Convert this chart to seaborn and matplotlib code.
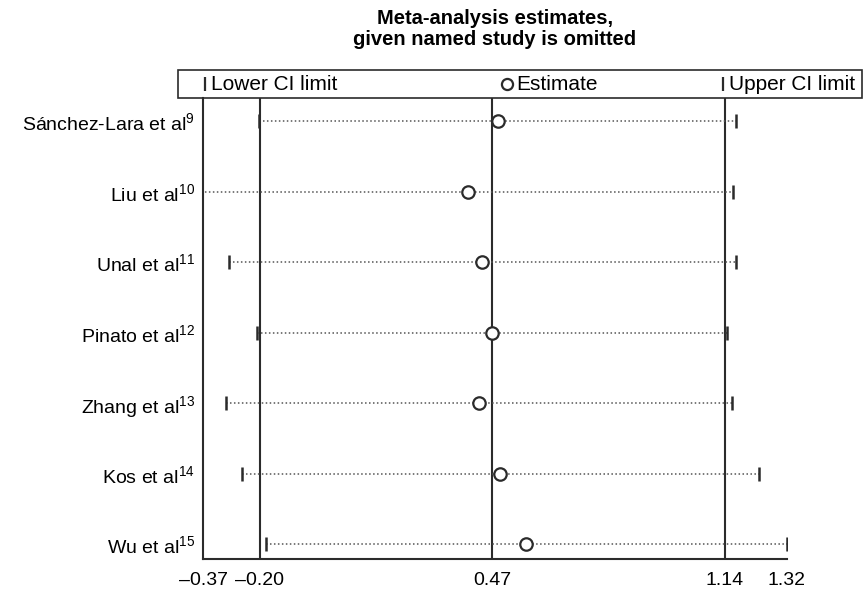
import matplotlib
matplotlib.use("Agg")
import matplotlib.pyplot as plt
from matplotlib.lines import Line2D
from matplotlib.patches import Rectangle
import seaborn as sns

# ---- data ----
studies = ["Sánchez-Lara et al$^{9}$", "Liu et al$^{10}$", "Unal et al$^{11}$",
           "Pinato et al$^{12}$", "Zhang et al$^{13}$", "Kos et al$^{14}$",
           "Wu et al$^{15}$"]
estimate = [0.483, 0.398, 0.438, 0.467, 0.428, 0.489, 0.566]
lower = [-0.208, -0.40, -0.296, -0.214, -0.304, -0.259, -0.187]
upper = [1.173, 1.165, 1.172, 1.148, 1.162, 1.240, 1.320]
overall = [-0.2066, 0.4672, 1.1413]
xticks = [-0.37, -0.2066, 0.4672, 1.1413, 1.32]
xtick_labels = ["\u20130.37", "\u20130.20", "0.47", "1.14", "1.32"]

sns.set_style("white")
plt.rcParams["font.family"] = ["Liberation Sans", "DejaVu Sans"]
plt.rcParams["mathtext.default"] = "regular"
plt.rcParams["text.color"] = "black"
plt.rcParams["xtick.color"] = "black"
plt.rcParams["ytick.color"] = "black"

dark = "#2b2b2b"

fig = plt.figure(figsize=(8.64, 5.93), dpi=100)
ax = fig.add_axes([0.2353, 0.0573, 0.6752, 0.7774])

for x in overall:
    ax.axvline(x, color=dark, lw=1.5, zorder=1)

ax.hlines(y=studies, xmin=lower, xmax=upper, colors="#555555",
          linestyles=(0, (1, 1.6)), lw=1.1, zorder=2)

sns.scatterplot(x=lower, y=studies, marker="|", s=110, color=dark,
                linewidth=1.8, ax=ax, zorder=3)
sns.scatterplot(x=upper, y=studies, marker="|", s=110, color=dark,
                linewidth=1.8, ax=ax, zorder=3)
sns.scatterplot(x=estimate, y=studies, marker="o", s=80, facecolors="white",
                edgecolor=dark, linewidth=1.6, ax=ax, zorder=4)

ax.set_xlim(-0.37, 1.32)
ax.set_ylim(6.21, -0.33)
ax.set_xticks(xticks)
ax.set_xticklabels(xtick_labels, fontsize=14)
ax.tick_params(axis="x", length=5, width=1.5, color=dark, pad=4)
ax.tick_params(axis="y", length=0, pad=6, labelsize=14)
ax.set_xlabel("")
ax.set_ylabel("")
sns.despine(ax=ax, top=True, right=True)
for s in ["left", "bottom"]:
    ax.spines[s].set_color(dark)
    ax.spines[s].set_linewidth(1.5)

W, H = 864, 593
fig.text(495 / W, 1 - 29 / H, "Meta-analysis estimates,\ngiven named study is omitted",
         ha="center", va="center", fontsize=14.5, fontweight="bold",
         linespacing=1.15)

# legend box
fig.add_artist(Rectangle((178 / W, 1 - 98 / H), 684 / W, 28 / H,
                         transform=fig.transFigure, fill=False, lw=1.2,
                         edgecolor=dark))
ly = 1 - 84 / H
for mx, mk, tx, label in [(205, "|", 211, "Lower CI limit"),
                          (507, "o", 516, "Estimate"),
                          (723, "|", 729, "Upper CI limit")]:
    fig.add_artist(Line2D([mx / W], [ly], marker=mk, markersize=8 if mk == "o" else 10,
                          markerfacecolor="white", markeredgecolor=dark,
                          markeredgewidth=1.6, transform=fig.transFigure))
    fig.text(tx / W, ly, label, ha="left", va="center", fontsize=15)

fig.savefig("out.png", dpi=100)
